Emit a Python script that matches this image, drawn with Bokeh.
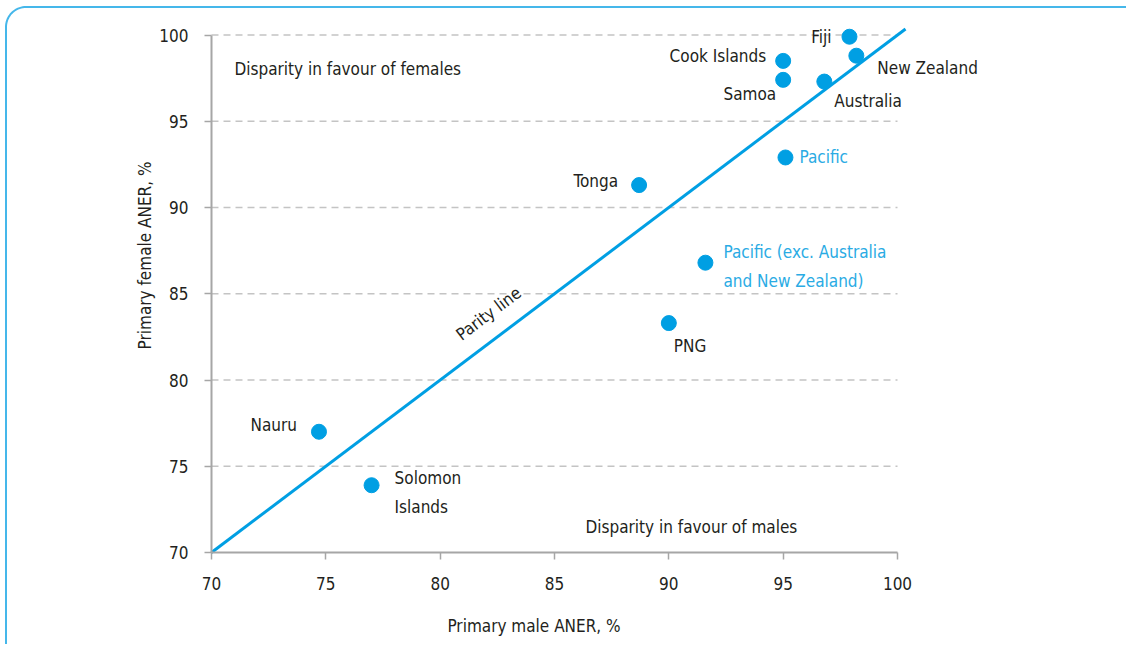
import numpy as np
from bokeh.plotting import figure
from bokeh.models import ColumnDataSource, FixedTicker, Label, Range1d, LinearAxis
from bokeh.embed import file_html
from bokeh.resources import INLINE
from bokeh.core.properties import value

# ---------------- data ----------------
economies = ["Fiji", "Cook Islands", "Samoa", "New Zealand", "Australia",
             "Pacific", "Tonga", "Pacific (exc. Australia\nand New Zealand)",
             "PNG", "Nauru", "Solomon\nIslands"]
male_aner = [97.9, 95.0, 95.0, 98.2, 96.8, 95.1, 88.7, 91.6, 90.0, 74.7, 77.0]
female_aner = [99.9, 98.5, 97.4, 98.8, 97.3, 92.9, 91.3, 86.8, 83.3, 77.0, 73.9]
is_aggregate = [False, False, False, False, False, True, False, True, False, False, False]
x_ticks = [70, 75, 80, 85, 90, 95, 100]
y_ticks = [70, 75, 80, 85, 90, 95, 100]
parity = [70, 100.35]

# ---------------- styles / layout ----------------
FONT = "DejaVu Sans Condensed, Roboto, sans-serif"
FS = "17px"
TXT = "#231f20"
BLUE = "#009fe3"
LBLUE = "#2aabe4"
GREY = "#a6a6a6"
BORDER = "#45b7ea"

W, H = 1126, 644
PX_X70, PX_X100 = 211.0, 897.0     # canvas pixel of x=70 / x=100
PX_Y100, PX_Y70 = 34.5, 552.0      # canvas pixel (from top) of y=100 / y=70
xs = (PX_X100 - PX_X70) / 30.0
ys = (PX_Y70 - PX_Y100) / 30.0
x_lo = 70 - PX_X70 / xs
x_hi = x_lo + W / xs
y_hi = 100 + PX_Y100 / ys
y_lo = y_hi - H / ys


def dx(px):
    return x_lo + px / xs


def dy(py):
    return y_hi - py / ys


# label placement (screen px offsets from the point, alignment)
label_dx = [-18, -17, -7, 21, 10, 14, -21, 18, 5, -22, 23]
label_dy = [0, -5, 14, 12, 19, 0, -4, 4, 23, -7, 7]
label_align = ["right", "right", "right", "left", "left", "left", "right",
               "left", "left", "right", "left"]

p = figure(width=W, height=H, output_backend="svg", toolbar_location=None,
           x_range=Range1d(x_lo, x_hi), y_range=Range1d(y_lo, y_hi),
           x_axis_location=None, y_axis_location=None, min_border=0)
p.outline_line_color = None
p.background_fill_color = "white"
p.border_fill_color = "white"
p.xgrid.visible = False
p.ygrid.visible = False

# rounded panel border (top and left edges visible)
r = 20.0
t = np.linspace(np.pi, np.pi / 2, 20)
bx = [5.5] + list(5.5 + r + r * np.cos(t)) + [W + 5.0]
by = [H + 5.0] + list(6.5 + r - r * np.sin(t)) + [6.5]
p.line([dx(v) for v in bx], [dy(v) for v in by], line_color=BORDER, line_width=2)

# dashed horizontal grid lines, from the y axis to x=100
p.segment(x0=x_ticks[0], x1=x_ticks[-1], y0=y_ticks[1:], y1=y_ticks[1:],
          line_color="#c4c4c4", line_dash="7 5", line_width=1.3)

xaxis = LinearAxis(fixed_location=70, bounds=(70, 100), ticker=FixedTicker(ticks=x_ticks))
yaxis = LinearAxis(fixed_location=70, bounds=(70, 100), ticker=FixedTicker(ticks=y_ticks))
for ax in (xaxis, yaxis):
    ax.axis_line_color = GREY
    ax.axis_line_width = 2
    ax.major_tick_line_color = GREY
    ax.major_tick_line_width = 1.5
    ax.major_tick_out = 7
    ax.major_tick_in = 0
    ax.minor_tick_line_color = None
    ax.major_label_text_font = FONT
    ax.major_label_text_font_size = FS
    ax.major_label_text_color = TXT
xaxis.major_label_standoff = 17
yaxis.major_label_standoff = 16
p.add_layout(xaxis, "below")
p.add_layout(yaxis, "left")

# parity line
p.line(parity, parity, line_color=BLUE, line_width=3)

# points
src = ColumnDataSource(dict(
    x=male_aner, y=female_aner, name=economies,
    color=[LBLUE if a else TXT for a in is_aggregate],
    dx=label_dx, dy=label_dy, align=label_align,
))
p.scatter("x", "y", source=src, size=15, color=BLUE)
p.text("x", "y", text="name", source=src, x_offset="dx", y_offset="dy",
       text_align="align", text_baseline="middle", text_color="color",
       text_font=value(FONT), text_font_size=FS, text_line_height=1.45)

common = dict(text_font=FONT, text_font_size=FS, text_color=TXT)
p.add_layout(Label(x=dx(234), y=dy(68), text="Disparity in favour of females",
                   text_align="left", text_baseline="middle", **common))
p.add_layout(Label(x=dx(585), y=dy(526), text="Disparity in favour of males",
                   text_align="left", text_baseline="middle", **common))
p.add_layout(Label(x=dx(488), y=dy(313), text="Parity line", angle=np.arctan(ys / xs),
                   text_align="center", text_baseline="middle", **common))
p.add_layout(Label(x=dx(533.5), y=dy(625), text="Primary male ANER, %",
                   text_align="center", text_baseline="middle", **common))
p.add_layout(Label(x=dx(144), y=dy(255), text="Primary female ANER, %", angle=np.pi / 2,
                   text_align="center", text_baseline="middle", **common))

open("out.html", "w").write(file_html(p, INLINE))
